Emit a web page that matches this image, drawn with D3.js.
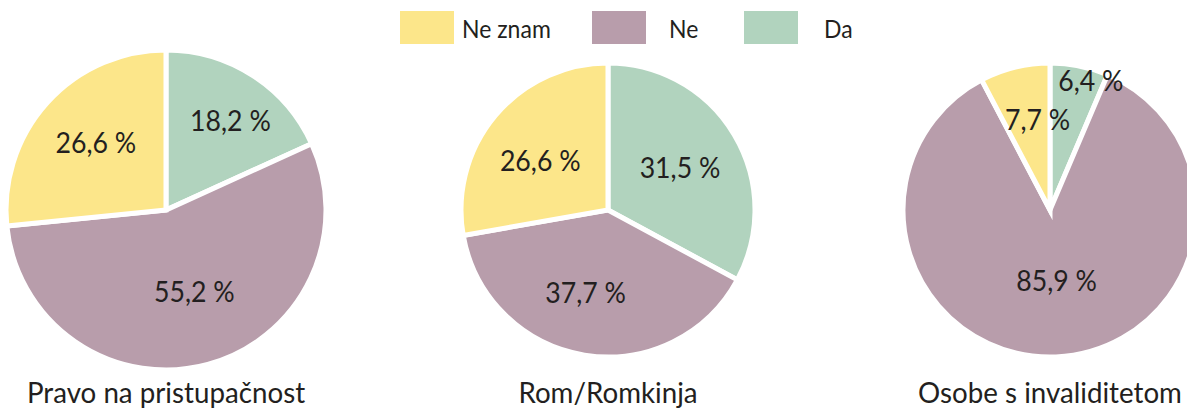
<!DOCTYPE html>
<html>
<head>
<meta charset="utf-8">
<script src="https://cdn.jsdelivr.net/npm/d3@7"></script>
<style>
  body { margin: 0; background: #fff; }
  text { font-family: Lato, "Open Sans", sans-serif; fill: #231f20; }
</style>
</head>
<body>
<div id="chart"></div>
<script>
// data
var groups = ["Pravo na pristupačnost", "Rom/Romkinja", "Osobe s invaliditetom"]
var categories = ["Da", "Ne", "Ne znam"]
var daValues = [18.2, 31.5, 6.4]
var neValues = [55.2, 37.7, 85.9]
var neZnamValues = [26.6, 26.6, 7.7]
var legendOrder = ["Ne znam", "Ne", "Da"]

var width = 1187, height = 409

var color = d3.scaleOrdinal()
    .domain(categories)
    .range(["#b1d3be", "#b89dab", "#fce68a"])

var locale = d3.formatLocale({ decimal: ",", thousands: ".", grouping: [3], currency: ["", ""] })
var fmt = locale.format(".1f")

var svg = d3.select("#chart").append("svg")
    .attr("width", width)
    .attr("height", height)

// layout
var cx = d3.scalePoint().domain(groups).range([166, 1050])
var cy = 210
var radius = [160, 147, 147]
var strokeW = 5
// label distance from centre, as share of the radius (Da, Ne, Ne znam)
var labelRadius = [[0.70, 0.55, 0.62], [0.58, 0.59, 0.58], [0.94, 0.49, 0.63]]
var labelTurn = [[3, -4, 2], [0, 6, -4], [6, -3, 6]]
var squeeze = 0.92

var pie = d3.pie().sort(null).value(function(d){ return d.value })

groups.forEach(function(g, i) {
    var rows = [
        { cat: "Da", value: daValues[i] },
        { cat: "Ne", value: neValues[i] },
        { cat: "Ne znam", value: neZnamValues[i] }
    ]
    var arcs = pie(rows)
    var arc = d3.arc().innerRadius(0).outerRadius(radius[i])

    var gp = svg.append("g")
        .attr("transform", "translate(" + cx(g) + "," + cy + ")")

    gp.selectAll("path")
        .data(arcs)
        .enter().append("path")
        .attr("d", arc)
        .attr("fill", function(d){ return color(d.data.cat) })
        .attr("stroke", "#fff")
        .attr("stroke-width", strokeW)
        .attr("stroke-linejoin", "miter")
        .attr("stroke-miterlimit", 10)

    gp.selectAll("text.lbl")
        .data(arcs)
        .enter().append("text")
        .attr("class", "lbl")
        .attr("text-anchor", "middle")
        .attr("font-size", 29)
        .attr("transform", function(d, j) {
            var a = (d.startAngle + d.endAngle) / 2 + labelTurn[i][j] * Math.PI / 180
            var r = (radius[i] - strokeW / 2) * labelRadius[i][j]
            return "translate(" + (Math.sin(a) * r) + "," + (-Math.cos(a) * r + 10.5) + ") scale(" + squeeze + ",1)"
        })
        .text(function(d){ return fmt(d.data.value) + " %" })

    svg.append("text")
        .attr("text-anchor", "middle")
        .attr("font-size", 28)
        .attr("transform", "translate(" + cx(g) + ",403) scale(0.99,1)")
        .text(g)
})

// legend
var legendX = [400, 592, 744]
var legendTextDx = [8, 23, 26]
var legend = svg.selectAll("g.legend")
    .data(legendOrder)
    .enter().append("g")
    .attr("class", "legend")
    .attr("transform", function(d, i){ return "translate(" + legendX[i] + ",11)" })

legend.append("rect")
    .attr("width", 54)
    .attr("height", 33)
    .attr("fill", function(d){ return color(d) })

legend.append("text")
    .attr("font-size", 25)
    .attr("transform", function(d, i){ return "translate(" + (54 + legendTextDx[i]) + ",27) scale(" + squeeze + ",1)" })
    .text(function(d){ return d })
</script>
</body>
</html>
